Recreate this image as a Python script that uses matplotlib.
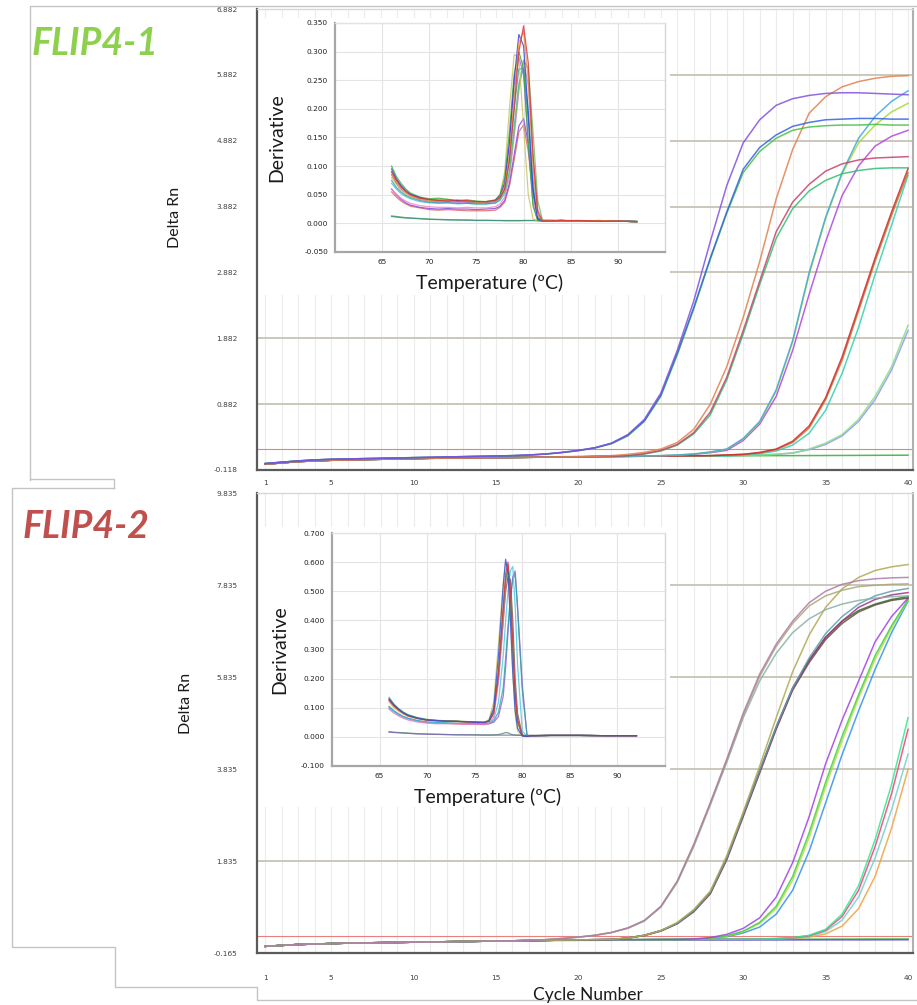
import matplotlib
matplotlib.use("Agg")
import matplotlib.pyplot as plt
from matplotlib.patches import Rectangle
from matplotlib.lines import Line2D

FIG_W, FIG_H = 917, 1005
LABEL_FONT = ["Lato", "DejaVu Sans"]

cycles = list(range(1, 41))
cycle_ticks = [1, 5, 10, 15, 20, 25, 30, 35, 40]

# ---- FLIP4-1 amplification (Delta Rn per cycle) ----
top_yticks = [-0.118, 0.882, 1.882, 2.882, 3.882, 4.882, 5.882, 6.882]
top_threshold = 0.2

top_ntc = [-0.02, 0.0, 0.02, 0.03, 0.04, 0.045, 0.05, 0.055, 0.06, 0.062,
           0.065, 0.068, 0.07, 0.072, 0.075, 0.077, 0.08, 0.082, 0.084, 0.086,
           0.088, 0.09, 0.091, 0.092, 0.093, 0.094, 0.095, 0.096, 0.097, 0.098,
           0.099, 0.1, 0.1, 0.101, 0.102, 0.103, 0.104, 0.105, 0.106, 0.107]
top_purple = [-0.02, 0.0, 0.02, 0.035, 0.045, 0.05, 0.055, 0.06, 0.065, 0.07,
              0.075, 0.08, 0.085, 0.09, 0.095, 0.1, 0.11, 0.125, 0.15, 0.18,
              0.22, 0.29, 0.42, 0.65, 1.05, 1.7, 2.45, 3.35, 4.2, 4.85,
              5.2, 5.42, 5.52, 5.57, 5.6, 5.61, 5.61, 5.6, 5.59, 5.58]
top_blue = [-0.02, 0.0, 0.02, 0.035, 0.045, 0.05, 0.055, 0.06, 0.065, 0.07,
            0.075, 0.08, 0.085, 0.09, 0.095, 0.1, 0.11, 0.125, 0.148, 0.178,
            0.22, 0.285, 0.41, 0.63, 1.02, 1.66, 2.35, 3.1, 3.8, 4.45,
            4.78, 4.97, 5.1, 5.16, 5.2, 5.21, 5.22, 5.22, 5.21, 5.21]
top_green = [-0.02, 0.0, 0.02, 0.035, 0.045, 0.05, 0.055, 0.06, 0.065, 0.07,
             0.075, 0.08, 0.085, 0.09, 0.095, 0.1, 0.108, 0.122, 0.145, 0.175,
             0.215, 0.28, 0.4, 0.62, 1.0, 1.63, 2.33, 3.08, 3.78, 4.4,
             4.72, 4.92, 5.04, 5.09, 5.11, 5.12, 5.12, 5.13, 5.12, 5.12]
top_orange = [-0.03, -0.01, 0.01, 0.02, 0.03, 0.035, 0.04, 0.045, 0.05, 0.055,
              0.06, 0.062, 0.065, 0.068, 0.07, 0.072, 0.075, 0.078, 0.08, 0.085,
              0.09, 0.1, 0.12, 0.15, 0.2, 0.3, 0.5, 0.88, 1.45, 2.2,
              3.05, 4.0, 4.75, 5.3, 5.55, 5.7, 5.78, 5.83, 5.86, 5.87]
top_crimson = [-0.03, -0.01, 0.01, 0.02, 0.03, 0.035, 0.04, 0.045, 0.05, 0.055,
               0.06, 0.062, 0.065, 0.068, 0.07, 0.072, 0.075, 0.077, 0.079, 0.08,
               0.085, 0.09, 0.1, 0.13, 0.18, 0.27, 0.45, 0.76, 1.29, 2.0,
               2.75, 3.5, 3.95, 4.22, 4.42, 4.53, 4.59, 4.62, 4.63, 4.64]
top_seagreen = [-0.03, -0.01, 0.01, 0.02, 0.03, 0.035, 0.04, 0.045, 0.05, 0.055,
                0.06, 0.062, 0.065, 0.068, 0.07, 0.072, 0.075, 0.077, 0.079, 0.08,
                0.085, 0.09, 0.1, 0.125, 0.17, 0.26, 0.43, 0.72, 1.25, 1.95,
                2.7, 3.4, 3.85, 4.12, 4.28, 4.38, 4.43, 4.46, 4.47, 4.47]
top_sky = [-0.03, -0.01, 0.01, 0.02, 0.03, 0.035, 0.04, 0.045, 0.05, 0.055,
           0.06, 0.062, 0.065, 0.068, 0.07, 0.072, 0.075, 0.077, 0.079, 0.082,
           0.085, 0.088, 0.092, 0.096, 0.1, 0.11, 0.125, 0.155, 0.2, 0.36,
           0.62, 1.1, 1.85, 2.88, 3.72, 4.4, 4.92, 5.25, 5.48, 5.64]
top_yellowgreen = [-0.03, -0.01, 0.01, 0.02, 0.03, 0.035, 0.04, 0.045, 0.05, 0.055,
                   0.06, 0.062, 0.065, 0.068, 0.07, 0.072, 0.075, 0.077, 0.079, 0.082,
                   0.085, 0.088, 0.092, 0.096, 0.1, 0.11, 0.125, 0.153, 0.198, 0.355,
                   0.61, 1.08, 1.83, 2.85, 3.7, 4.38, 4.85, 5.12, 5.32, 5.45]
top_orchid = [-0.03, -0.01, 0.01, 0.02, 0.03, 0.035, 0.04, 0.045, 0.05, 0.055,
              0.06, 0.062, 0.065, 0.068, 0.07, 0.072, 0.075, 0.077, 0.079, 0.082,
              0.085, 0.088, 0.09, 0.094, 0.098, 0.105, 0.12, 0.145, 0.18, 0.33,
              0.58, 1.0, 1.7, 2.55, 3.35, 4.05, 4.5, 4.8, 4.95, 5.04]
top_red = [-0.03, -0.01, 0.01, 0.02, 0.03, 0.035, 0.04, 0.045, 0.05, 0.055,
           0.06, 0.062, 0.065, 0.068, 0.07, 0.072, 0.075, 0.077, 0.079, 0.082,
           0.085, 0.088, 0.09, 0.092, 0.094, 0.096, 0.098, 0.1, 0.11, 0.12,
           0.15, 0.2, 0.32, 0.55, 0.98, 1.6, 2.35, 3.1, 3.8, 4.46]
top_rust = [-0.03, -0.01, 0.01, 0.02, 0.03, 0.035, 0.04, 0.045, 0.05, 0.055,
            0.06, 0.062, 0.065, 0.068, 0.07, 0.072, 0.075, 0.077, 0.079, 0.082,
            0.085, 0.087, 0.089, 0.091, 0.093, 0.095, 0.097, 0.1, 0.11, 0.12,
            0.14, 0.19, 0.3, 0.52, 0.95, 1.55, 2.3, 3.05, 3.75, 4.4]
top_cyan = [-0.03, -0.01, 0.01, 0.02, 0.03, 0.035, 0.04, 0.045, 0.05, 0.055,
            0.06, 0.062, 0.065, 0.068, 0.07, 0.072, 0.075, 0.077, 0.079, 0.082,
            0.085, 0.087, 0.089, 0.091, 0.093, 0.095, 0.097, 0.099, 0.1, 0.11,
            0.13, 0.17, 0.26, 0.44, 0.79, 1.35, 2.05, 2.85, 3.6, 4.36]
top_lightgreen = [-0.03, -0.01, 0.01, 0.02, 0.03, 0.035, 0.04, 0.045, 0.05, 0.055,
                  0.06, 0.062, 0.065, 0.068, 0.07, 0.072, 0.075, 0.077, 0.079, 0.082,
                  0.085, 0.087, 0.089, 0.091, 0.093, 0.095, 0.097, 0.099, 0.1, 0.105,
                  0.11, 0.12, 0.14, 0.2, 0.29, 0.42, 0.65, 1.0, 1.45, 2.08]
top_periwinkle = [-0.03, -0.01, 0.01, 0.02, 0.03, 0.035, 0.04, 0.045, 0.05, 0.055,
                  0.06, 0.062, 0.065, 0.068, 0.07, 0.072, 0.075, 0.077, 0.079, 0.082,
                  0.085, 0.087, 0.089, 0.091, 0.093, 0.095, 0.097, 0.099, 0.1, 0.105,
                  0.11, 0.12, 0.14, 0.19, 0.27, 0.4, 0.62, 0.95, 1.4, 2.0]

# ---- FLIP4-2 amplification ----
bot_yticks = [-0.165, 1.835, 3.835, 5.835, 7.835, 9.835]
bot_threshold = 0.2

bot_ntc_violet = [-0.02, 0.0, 0.02, 0.03, 0.04, 0.05, 0.055, 0.06, 0.065, 0.07,
                  0.075, 0.08, 0.085, 0.09, 0.095, 0.1, 0.103, 0.106, 0.108, 0.11,
                  0.111, 0.112, 0.113, 0.114, 0.115, 0.115, 0.116, 0.116, 0.117, 0.117,
                  0.118, 0.118, 0.119, 0.119, 0.12, 0.12, 0.12, 0.121, 0.121, 0.122]
bot_ntc_green = [-0.02, 0.0, 0.02, 0.03, 0.04, 0.05, 0.055, 0.06, 0.065, 0.07,
                 0.075, 0.08, 0.085, 0.09, 0.095, 0.1, 0.105, 0.11, 0.115, 0.118,
                 0.12, 0.122, 0.124, 0.125, 0.127, 0.128, 0.129, 0.13, 0.131, 0.132,
                 0.133, 0.134, 0.135, 0.136, 0.137, 0.138, 0.139, 0.14, 0.14, 0.141]
bot_mauve = [-0.02, 0.0, 0.02, 0.03, 0.04, 0.05, 0.055, 0.06, 0.065, 0.07,
             0.075, 0.08, 0.085, 0.09, 0.095, 0.1, 0.11, 0.125, 0.15, 0.18,
             0.22, 0.28, 0.38, 0.54, 0.85, 1.4, 2.2, 3.1, 4.05, 5.05,
             5.9, 6.55, 7.05, 7.45, 7.7, 7.85, 7.93, 7.97, 7.99, 8.0]
bot_sage = [-0.02, 0.0, 0.02, 0.03, 0.04, 0.05, 0.055, 0.06, 0.065, 0.07,
            0.075, 0.08, 0.085, 0.09, 0.095, 0.1, 0.11, 0.125, 0.15, 0.18,
            0.22, 0.28, 0.38, 0.54, 0.84, 1.39, 2.18, 3.08, 4.02, 5.0,
            5.85, 6.5, 7.0, 7.38, 7.6, 7.72, 7.8, 7.83, 7.85, 7.86]
bot_slate = [-0.02, 0.0, 0.02, 0.03, 0.04, 0.05, 0.055, 0.06, 0.065, 0.07,
             0.075, 0.08, 0.085, 0.09, 0.095, 0.1, 0.11, 0.125, 0.15, 0.18,
             0.22, 0.28, 0.37, 0.53, 0.83, 1.37, 2.15, 3.05, 3.98, 4.95,
             5.75, 6.35, 6.8, 7.1, 7.3, 7.42, 7.5, 7.55, 7.58, 7.6]
bot_khaki = [-0.02, 0.0, 0.02, 0.03, 0.04, 0.05, 0.055, 0.06, 0.065, 0.07,
             0.075, 0.08, 0.085, 0.09, 0.095, 0.1, 0.105, 0.11, 0.115, 0.12,
             0.125, 0.13, 0.16, 0.22, 0.32, 0.5, 0.78, 1.18, 1.95, 2.9,
             3.9, 4.95, 5.95, 6.75, 7.35, 7.75, 8.0, 8.15, 8.23, 8.28]
bot_steel = [-0.02, 0.0, 0.02, 0.03, 0.04, 0.05, 0.055, 0.06, 0.065, 0.07,
             0.075, 0.08, 0.085, 0.09, 0.095, 0.1, 0.105, 0.11, 0.115, 0.12,
             0.125, 0.13, 0.16, 0.22, 0.32, 0.48, 0.75, 1.15, 1.9, 2.85,
             3.8, 4.75, 5.6, 6.25, 6.78, 7.15, 7.42, 7.6, 7.7, 7.76]
bot_magenta = [-0.02, 0.0, 0.02, 0.03, 0.04, 0.05, 0.055, 0.06, 0.065, 0.07,
               0.075, 0.08, 0.085, 0.09, 0.095, 0.1, 0.105, 0.11, 0.115, 0.12,
               0.125, 0.13, 0.16, 0.22, 0.32, 0.48, 0.75, 1.14, 1.88, 2.83,
               3.78, 4.72, 5.58, 6.2, 6.7, 7.05, 7.35, 7.52, 7.62, 7.67]
bot_forest = [-0.02, 0.0, 0.02, 0.03, 0.04, 0.05, 0.055, 0.06, 0.065, 0.07,
              0.075, 0.08, 0.085, 0.09, 0.095, 0.1, 0.105, 0.11, 0.115, 0.12,
              0.125, 0.13, 0.16, 0.22, 0.32, 0.48, 0.75, 1.15, 1.9, 2.85,
              3.8, 4.75, 5.6, 6.2, 6.7, 7.05, 7.28, 7.42, 7.52, 7.58]
bot_umber = [-0.02, 0.0, 0.02, 0.03, 0.04, 0.05, 0.055, 0.06, 0.065, 0.07,
             0.075, 0.08, 0.085, 0.09, 0.095, 0.1, 0.105, 0.11, 0.115, 0.12,
             0.125, 0.13, 0.158, 0.215, 0.31, 0.47, 0.73, 1.12, 1.86, 2.8,
             3.75, 4.7, 5.55, 6.15, 6.65, 7.0, 7.25, 7.4, 7.5, 7.55]
bot_purple = [-0.02, 0.0, 0.02, 0.03, 0.04, 0.05, 0.055, 0.06, 0.065, 0.07,
              0.075, 0.08, 0.085, 0.09, 0.095, 0.1, 0.105, 0.11, 0.115, 0.12,
              0.12, 0.122, 0.124, 0.126, 0.128, 0.13, 0.14, 0.17, 0.24, 0.37,
              0.6, 1.05, 1.8, 2.8, 3.95, 4.9, 5.75, 6.6, 7.15, 7.55]
bot_green = [-0.02, 0.0, 0.02, 0.03, 0.04, 0.05, 0.055, 0.06, 0.065, 0.07,
             0.075, 0.08, 0.085, 0.09, 0.095, 0.1, 0.105, 0.11, 0.115, 0.12,
             0.12, 0.122, 0.124, 0.126, 0.128, 0.13, 0.138, 0.16, 0.21, 0.31,
             0.5, 0.85, 1.5, 2.45, 3.55, 4.55, 5.45, 6.3, 6.95, 7.52]
bot_yellowgreen = [-0.02, 0.0, 0.02, 0.03, 0.04, 0.05, 0.055, 0.06, 0.065, 0.07,
                   0.075, 0.08, 0.085, 0.09, 0.095, 0.1, 0.105, 0.11, 0.115, 0.12,
                   0.12, 0.122, 0.124, 0.126, 0.128, 0.13, 0.137, 0.155, 0.2, 0.3,
                   0.48, 0.8, 1.42, 2.35, 3.45, 4.45, 5.38, 6.22, 6.9, 7.5]
bot_blue = [-0.02, 0.0, 0.02, 0.03, 0.04, 0.05, 0.055, 0.06, 0.065, 0.07,
            0.075, 0.08, 0.085, 0.09, 0.095, 0.1, 0.105, 0.11, 0.115, 0.12,
            0.12, 0.122, 0.124, 0.126, 0.128, 0.13, 0.135, 0.15, 0.19, 0.27,
            0.4, 0.68, 1.2, 2.05, 3.1, 4.15, 5.1, 6.0, 6.8, 7.48]
bot_spring = [-0.02, 0.0, 0.02, 0.03, 0.04, 0.05, 0.055, 0.06, 0.065, 0.07,
              0.075, 0.08, 0.085, 0.09, 0.095, 0.1, 0.105, 0.11, 0.115, 0.12,
              0.12, 0.12, 0.122, 0.124, 0.126, 0.128, 0.13, 0.132, 0.134, 0.137,
              0.14, 0.15, 0.17, 0.22, 0.35, 0.68, 1.3, 2.3, 3.5, 4.95]
bot_pink = [-0.02, 0.0, 0.02, 0.03, 0.04, 0.05, 0.055, 0.06, 0.065, 0.07,
            0.075, 0.08, 0.085, 0.09, 0.095, 0.1, 0.105, 0.11, 0.115, 0.12,
            0.12, 0.12, 0.122, 0.124, 0.126, 0.128, 0.13, 0.132, 0.134, 0.136,
            0.14, 0.148, 0.165, 0.21, 0.33, 0.63, 1.2, 2.15, 3.3, 4.7]
bot_aqua = [-0.02, 0.0, 0.02, 0.03, 0.04, 0.05, 0.055, 0.06, 0.065, 0.07,
            0.075, 0.08, 0.085, 0.09, 0.095, 0.1, 0.105, 0.11, 0.115, 0.12,
            0.12, 0.12, 0.122, 0.124, 0.126, 0.128, 0.13, 0.132, 0.134, 0.136,
            0.138, 0.145, 0.16, 0.2, 0.3, 0.55, 1.05, 1.9, 2.95, 4.16]
bot_orange = [-0.02, 0.0, 0.02, 0.03, 0.04, 0.05, 0.055, 0.06, 0.065, 0.07,
              0.075, 0.08, 0.085, 0.09, 0.095, 0.1, 0.105, 0.11, 0.115, 0.12,
              0.12, 0.12, 0.122, 0.124, 0.126, 0.128, 0.13, 0.132, 0.134, 0.136,
              0.138, 0.142, 0.15, 0.18, 0.25, 0.42, 0.8, 1.5, 2.55, 3.83]

# ---- FLIP4-1 melt curves (derivative vs temperature) ----
melt_temp_top = [66, 66.5, 67, 67.5, 68, 69, 70, 71, 72, 73, 74, 75, 76, 77,
                 77.5, 78, 78.5, 79, 79.5, 80, 80.5, 81, 81.5, 82,
                 84, 86, 88, 90, 92]
melt_top_yticks = [-0.05, 0.0, 0.05, 0.1, 0.15, 0.2, 0.25, 0.3, 0.35]

mt_red = [0.090, 0.075, 0.064, 0.056, 0.050, 0.044, 0.042, 0.040, 0.041, 0.039, 0.040, 0.038, 0.038, 0.040,
          0.045, 0.060, 0.110, 0.200, 0.300, 0.345, 0.280, 0.120, 0.020, 0.004,
          0.005, 0.005, 0.004, 0.004, 0.003]
mt_orange = [0.085, 0.072, 0.062, 0.055, 0.049, 0.043, 0.040, 0.039, 0.040, 0.038, 0.039, 0.037, 0.037, 0.039,
             0.046, 0.065, 0.120, 0.220, 0.315, 0.335, 0.250, 0.100, 0.015, 0.004,
             0.005, 0.004, 0.005, 0.004, 0.003]
mt_blue = [0.095, 0.078, 0.066, 0.057, 0.051, 0.045, 0.041, 0.040, 0.039, 0.040, 0.038, 0.038, 0.037, 0.040,
           0.048, 0.070, 0.140, 0.250, 0.330, 0.310, 0.190, 0.060, 0.008, 0.004,
           0.005, 0.004, 0.004, 0.004, 0.003]
mt_khaki = [0.080, 0.068, 0.058, 0.052, 0.047, 0.043, 0.040, 0.042, 0.040, 0.041, 0.039, 0.038, 0.038, 0.041,
            0.050, 0.090, 0.200, 0.295, 0.290, 0.170, 0.050, 0.008, 0.004, 0.004,
            0.005, 0.004, 0.004, 0.004, 0.003]
mt_green = [0.100, 0.082, 0.070, 0.060, 0.053, 0.046, 0.043, 0.044, 0.042, 0.040, 0.041, 0.039, 0.038, 0.041,
            0.050, 0.080, 0.160, 0.260, 0.300, 0.270, 0.140, 0.030, 0.005, 0.004,
            0.005, 0.004, 0.005, 0.004, 0.003]
mt_green2 = [0.090, 0.076, 0.065, 0.056, 0.050, 0.044, 0.040, 0.041, 0.039, 0.040, 0.038, 0.037, 0.037, 0.039,
             0.043, 0.055, 0.090, 0.160, 0.240, 0.285, 0.270, 0.160, 0.040, 0.006,
             0.005, 0.004, 0.004, 0.004, 0.003]
mt_purple = [0.060, 0.050, 0.042, 0.036, 0.032, 0.028, 0.026, 0.025, 0.026, 0.025, 0.025, 0.024, 0.025, 0.026,
             0.030, 0.040, 0.070, 0.120, 0.170, 0.183, 0.140, 0.060, 0.010, 0.004,
             0.005, 0.004, 0.004, 0.004, 0.003]
mt_rose = [0.055, 0.046, 0.039, 0.034, 0.030, 0.027, 0.024, 0.023, 0.024, 0.023, 0.022, 0.022, 0.022, 0.023,
           0.028, 0.037, 0.065, 0.110, 0.160, 0.172, 0.125, 0.050, 0.008, 0.004,
           0.005, 0.004, 0.004, 0.004, 0.003]
mt_teal = [0.075, 0.063, 0.055, 0.049, 0.045, 0.040, 0.037, 0.036, 0.036, 0.035, 0.035, 0.034, 0.034, 0.036,
           0.042, 0.060, 0.110, 0.200, 0.270, 0.270, 0.180, 0.060, 0.008, 0.004,
           0.005, 0.004, 0.004, 0.004, 0.003]
mt_cyan = [0.070, 0.060, 0.052, 0.047, 0.043, 0.038, 0.036, 0.035, 0.036, 0.034, 0.035, 0.034, 0.034, 0.035,
           0.040, 0.052, 0.090, 0.170, 0.245, 0.270, 0.200, 0.080, 0.012, 0.004,
           0.005, 0.004, 0.004, 0.004, 0.003]
mt_pink = [0.060, 0.051, 0.044, 0.039, 0.035, 0.031, 0.029, 0.028, 0.028, 0.027, 0.028, 0.027, 0.027, 0.029,
           0.034, 0.046, 0.080, 0.150, 0.230, 0.285, 0.240, 0.120, 0.025, 0.005,
           0.005, 0.004, 0.004, 0.004, 0.003]
mt_violet = [0.085, 0.070, 0.060, 0.053, 0.048, 0.042, 0.039, 0.038, 0.038, 0.037, 0.037, 0.036, 0.036, 0.038,
             0.046, 0.070, 0.140, 0.240, 0.290, 0.260, 0.140, 0.035, 0.005, 0.004,
             0.005, 0.004, 0.004, 0.004, 0.003]
mt_ntc_a = [0.013, 0.012, 0.011, 0.010, 0.0095, 0.0085, 0.0075, 0.007, 0.0065, 0.006, 0.006, 0.0055, 0.0055, 0.005,
            0.005, 0.005, 0.005, 0.005, 0.005, 0.005, 0.005, 0.005, 0.005, 0.005,
            0.005, 0.0045, 0.0045, 0.004, 0.004]
mt_ntc_b = [0.012, 0.011, 0.010, 0.0095, 0.009, 0.008, 0.007, 0.0065, 0.006, 0.006, 0.0055, 0.005, 0.005, 0.005,
            0.005, 0.0045, 0.0045, 0.0045, 0.0045, 0.005, 0.005, 0.005, 0.0045, 0.0045,
            0.0045, 0.004, 0.004, 0.004, 0.0035]

# ---- FLIP4-2 melt curves ----
melt_temp_bot = [66, 66.5, 67, 67.5, 68, 69, 70, 71, 72, 73, 74, 75, 76,
                 76.5, 77, 77.5, 78, 78.25, 78.5, 78.75, 79, 79.25, 79.5,
                 80, 80.5, 81, 83, 86, 89, 92]
melt_bot_yticks = [-0.1, 0.0, 0.1, 0.2, 0.3, 0.4, 0.5, 0.6, 0.7]

mb_blue = [0.130, 0.110, 0.095, 0.083, 0.074, 0.064, 0.058, 0.056, 0.054, 0.053, 0.052, 0.050, 0.050,
           0.055, 0.100, 0.280, 0.520, 0.610, 0.560, 0.400, 0.220, 0.090, 0.030,
           0.003, 0.002, 0.004, 0.005, 0.005, 0.004, 0.004]
mb_red = [0.125, 0.106, 0.092, 0.081, 0.072, 0.063, 0.057, 0.055, 0.053, 0.054, 0.051, 0.050, 0.049,
          0.053, 0.085, 0.220, 0.450, 0.560, 0.600, 0.500, 0.320, 0.150, 0.060,
          0.005, 0.002, 0.004, 0.005, 0.005, 0.004, 0.004]
mb_green = [0.135, 0.113, 0.097, 0.085, 0.076, 0.066, 0.060, 0.057, 0.055, 0.054, 0.053, 0.051, 0.050,
            0.056, 0.090, 0.230, 0.440, 0.540, 0.580, 0.480, 0.300, 0.140, 0.050,
            0.004, 0.002, 0.004, 0.005, 0.005, 0.004, 0.004]
mb_khaki = [0.120, 0.100, 0.088, 0.078, 0.070, 0.062, 0.056, 0.054, 0.053, 0.052, 0.051, 0.050, 0.049,
            0.060, 0.120, 0.320, 0.530, 0.600, 0.580, 0.420, 0.220, 0.080, 0.020,
            0.003, 0.002, 0.004, 0.005, 0.005, 0.004, 0.004]
mb_purple = [0.100, 0.088, 0.077, 0.069, 0.063, 0.055, 0.050, 0.048, 0.047, 0.046, 0.045, 0.045, 0.044,
             0.045, 0.050, 0.070, 0.140, 0.240, 0.360, 0.470, 0.550, 0.570, 0.450,
             0.180, 0.004, 0.003, 0.005, 0.005, 0.004, 0.004]
mb_teal = [0.105, 0.090, 0.079, 0.070, 0.064, 0.056, 0.051, 0.049, 0.048, 0.047, 0.046, 0.046, 0.045,
           0.047, 0.055, 0.085, 0.170, 0.270, 0.380, 0.480, 0.540, 0.560, 0.440,
           0.160, 0.004, 0.003, 0.005, 0.005, 0.004, 0.004]
mb_pink = [0.095, 0.082, 0.072, 0.064, 0.058, 0.051, 0.047, 0.045, 0.045, 0.044, 0.043, 0.043, 0.042,
           0.045, 0.070, 0.190, 0.400, 0.520, 0.590, 0.500, 0.330, 0.160, 0.060,
           0.005, 0.002, 0.004, 0.005, 0.005, 0.004, 0.004]
mb_cyan = [0.100, 0.087, 0.076, 0.068, 0.062, 0.054, 0.050, 0.048, 0.047, 0.046, 0.046, 0.045, 0.045,
           0.047, 0.060, 0.120, 0.280, 0.400, 0.500, 0.570, 0.585, 0.450, 0.250,
           0.020, 0.002, 0.004, 0.005, 0.005, 0.004, 0.004]
mb_brown = [0.128, 0.108, 0.093, 0.082, 0.073, 0.064, 0.058, 0.056, 0.055, 0.054, 0.052, 0.051, 0.050,
            0.054, 0.080, 0.200, 0.400, 0.500, 0.550, 0.540, 0.400, 0.200, 0.080,
            0.006, 0.002, 0.004, 0.005, 0.005, 0.004, 0.004]
mb_ntc_a = [0.018, 0.016, 0.015, 0.014, 0.013, 0.011, 0.010, 0.009, 0.008, 0.0075, 0.007, 0.007, 0.0065,
            0.0065, 0.007, 0.008, 0.012, 0.015, 0.014, 0.010, 0.007, 0.006, 0.006,
            0.005, 0.005, 0.005, 0.005, 0.005, 0.004, 0.004]
mb_ntc_b = [0.016, 0.015, 0.014, 0.013, 0.012, 0.010, 0.009, 0.0085, 0.008, 0.007, 0.007, 0.0065, 0.006,
            0.006, 0.006, 0.006, 0.006, 0.006, 0.006, 0.006, 0.006, 0.006, 0.006,
            0.005, 0.005, 0.005, 0.005, 0.005, 0.004, 0.004]

top_amp = [
    (top_ntc, "#33b033"), (top_periwinkle, "#9595f0"), (top_lightgreen, "#85e085"),
    (top_cyan, "#2fd0b0"), (top_rust, "#d07030"), (top_red, "#cc2a2a"),
    (top_orchid, "#b045e0"), (top_yellowgreen, "#a8d830"), (top_sky, "#40a8e0"),
    (top_seagreen, "#2fc070"), (top_crimson, "#c8406a"), (top_orange, "#e08050"),
    (top_green, "#45c045"), (top_blue, "#3462e0"), (top_purple, "#8050e0"),
]
bot_amp = [
    (bot_ntc_green, "#40b040"), (bot_ntc_violet, "#6050d0"),
    (bot_orange, "#f0a040"), (bot_aqua, "#70d0d0"), (bot_pink, "#f0407a"), (bot_spring, "#30e890"),
    (bot_blue, "#3090f0"), (bot_yellowgreen, "#b0e040"), (bot_green, "#40d040"), (bot_purple, "#a040e8"),
    (bot_umber, "#6a4a3a"), (bot_forest, "#3a6a30"), (bot_magenta, "#a0308a"),
    (bot_steel, "#5aa0a8"), (bot_khaki, "#b0a850"),
    (bot_slate, "#8aafa8"), (bot_sage, "#a8a878"), (bot_mauve, "#b07aa8"),
]
top_melt = [
    (mt_ntc_a, "#40a040"), (mt_ntc_b, "#409090"),
    (mt_rose, "#e06060"), (mt_purple, "#8040e0"), (mt_pink, "#f080c0"),
    (mt_cyan, "#40c0e0"), (mt_teal, "#30a0a0"), (mt_violet, "#a060f0"),
    (mt_green2, "#60c060"), (mt_khaki, "#c8c060"), (mt_green, "#30b030"),
    (mt_blue, "#3040e0"), (mt_orange, "#f09040"), (mt_red, "#e03030"),
]
bot_melt = [
    (mb_ntc_a, "#40a040"), (mb_ntc_b, "#8060c0"),
    (mb_purple, "#a050e0"), (mb_teal, "#30a0a0"), (mb_cyan, "#40c8e8"),
    (mb_brown, "#705030"), (mb_pink, "#f070b0"), (mb_khaki, "#c8c050"),
    (mb_green, "#30a030"), (mb_red, "#e03040"), (mb_blue, "#3050e0"),
]

for vals, _ in top_amp + bot_amp:
    assert len(vals) == len(cycles)
for vals, _ in top_melt:
    assert len(vals) == len(melt_temp_top)
for vals, _ in bot_melt:
    assert len(vals) == len(melt_temp_bot)


def px_rect(x0, y0, x1, y1):
    """Pixel box with a top-left origin -> figure fraction rect."""
    return [x0 / FIG_W, 1 - y1 / FIG_H, (x1 - x0) / FIG_W, (y1 - y0) / FIG_H]


def px_line(points, **kw):
    xs = [p[0] / FIG_W for p in points]
    ys = [1 - p[1] / FIG_H for p in points]
    fig.add_artist(Line2D(xs, ys, transform=fig.transFigure, **kw))


def amp_panel(rect, ylim, yticks, curves, threshold, xpad, blank):
    ax = fig.add_axes(rect)
    ax.set_xlim(0.5, 40.3)
    ax.set_ylim(*ylim)
    ax.set_xticks(cycle_ticks)
    ax.set_xticks(cycles, minor=True)
    ax.set_yticks(yticks)
    ax.set_yticklabels([f"{t:.3f}" for t in yticks])
    ax.set_axisbelow(True)
    ax.grid(True, which="both", axis="x", color="#ececec", lw=0.8)
    ax.grid(True, which="major", axis="y", color="#cbc7bb", lw=1.4)
    ax.tick_params(which="both", length=0)
    ax.tick_params(axis="y", pad=14, labelsize=5.3, labelcolor="#404040")
    ax.tick_params(axis="x", pad=xpad, labelsize=5.3, labelcolor="#404040")
    for side, col, lw in (("left", "#5a5a5a", 1.6), ("bottom", "#5a5a5a", 1.6),
                          ("right", "#b0b0b0", 1.5), ("top", "#d8d8d8", 1.0)):
        ax.spines[side].set_color(col)
        ax.spines[side].set_linewidth(lw)
    # white area behind the melt-curve inset
    ax.add_patch(Rectangle((blank[0], blank[1]), blank[2], blank[3],
                           transform=fig.transFigure, facecolor="white",
                           edgecolor="none", zorder=1))
    ax.axhline(threshold, color="#e88080", lw=0.8, zorder=2)
    for vals, col in curves:
        ax.plot(cycles, vals, color=col, lw=1.1, alpha=0.85, zorder=3)
    return ax


def melt_panel(rect, temps, curves, yticks, ylabel_x):
    ax = fig.add_axes(rect)
    ax.set_xlim(60, 95)
    ax.set_ylim(yticks[0], yticks[-1])
    ax.set_xticks([65, 70, 75, 80, 85, 90])
    ax.set_yticks(yticks)
    ax.set_yticklabels([f"{t:.3f}" for t in yticks])
    ax.set_axisbelow(True)
    ax.grid(True, color="#e4e4e4", lw=0.8)
    ax.tick_params(length=0, labelsize=5.3, pad=5, labelcolor="#202020")
    for side, col, lw in (("left", "#a6a6a6", 1.6), ("bottom", "#a6a6a6", 1.6),
                          ("right", "#d6d6d6", 1.0), ("top", "#e2e2e2", 1.0)):
        ax.spines[side].set_color(col)
        ax.spines[side].set_linewidth(lw)
    for vals, col in curves:
        ax.plot(temps, vals, color=col, lw=0.9, alpha=0.8)
    ax.text(ylabel_x, 0.5, "Derivative", transform=ax.transAxes, rotation=90,
            ha="center", va="center", fontsize=14, family=LABEL_FONT, color="#1a1a1a")
    ax.text(0.467, -0.135, "Temperature (ºC)", transform=ax.transAxes,
            ha="center", va="center", fontsize=14, family=LABEL_FONT, color="#1a1a1a")
    return ax


fig = plt.figure(figsize=(FIG_W / 100, FIG_H / 100), dpi=100)

# panel frames
frame = dict(color="#c4c4c4", lw=1.0)
px_line([(30, 480), (30, 6), (917, 6)], **frame)
px_line([(30, 479), (114, 479), (114, 488)], **frame)
px_line([(114, 488), (12, 488), (12, 947), (115, 947), (115, 987),
         (257, 987), (257, 1000), (917, 1000)], **frame)

amp_panel(px_rect(257, 9, 913, 470), (-0.118, 6.882), top_yticks, top_amp,
          top_threshold, 7, px_rect(258, 18, 670, 295))
amp_panel(px_rect(257, 493, 913, 953), (-0.165, 9.835), bot_yticks, bot_amp,
          bot_threshold, 16, px_rect(258, 527, 670, 807))

melt_panel(px_rect(335, 23, 665, 252), melt_temp_top, top_melt, melt_top_yticks, -0.176)
melt_panel(px_rect(332, 533, 665, 766), melt_temp_bot, bot_melt, melt_bot_yticks, -0.156)

fig.text(32 / FIG_W, 1 - 55 / FIG_H, "FLIP4-1", color="#8dd04e", fontsize=27,
         fontweight="bold", fontstyle="italic", family=LABEL_FONT, va="baseline")
fig.text(23 / FIG_W, 1 - 538 / FIG_H, "FLIP4-2", color="#c0504d", fontsize=27,
         fontweight="bold", fontstyle="italic", family=LABEL_FONT, va="baseline")

fig.text(175 / FIG_W, 1 - 217 / FIG_H, "Delta Rn", rotation=90, ha="center", va="center",
         fontsize=11.5, family=LABEL_FONT, color="#1a1a1a")
fig.text(186 / FIG_W, 1 - 703 / FIG_H, "Delta Rn", rotation=90, ha="center", va="center",
         fontsize=11.5, family=LABEL_FONT, color="#1a1a1a")
fig.text(588 / FIG_W, 1 - 995 / FIG_H, "Cycle Number", ha="center", va="center",
         fontsize=12.5, family=LABEL_FONT, color="#1a1a1a")

fig.savefig("out.png", dpi=100, facecolor="white")
